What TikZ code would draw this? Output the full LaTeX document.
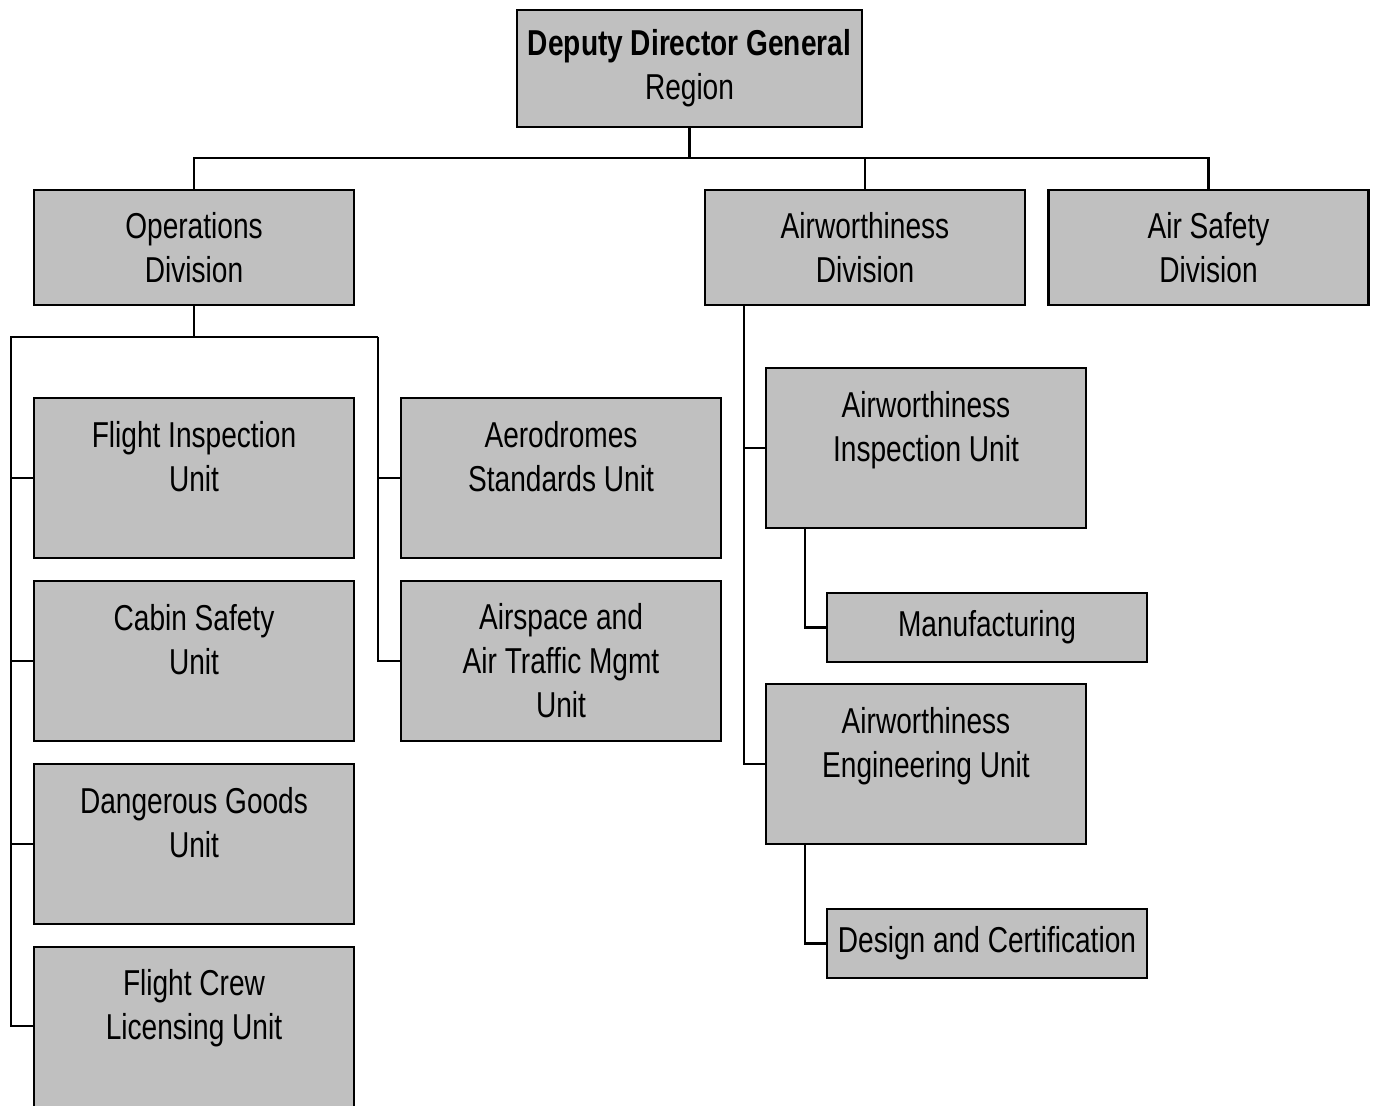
\documentclass[tikz,border=0pt]{standalone}
\usepackage{fontspec}
\setmainfont{Liberation Sans}[FakeStretch=0.78]
\usepackage{tikz}
\definecolor{boxgray}{HTML}{C0C0C0}
\tikzstyle{unit} = [rectangle, minimum width=160pt, minimum height=80pt, align=center, draw=black, line width=1.4pt, fill=boxgray, inner sep=0pt, font=\fontsize{18}{22}\selectfont]
\tikzstyle{division} = [unit, minimum height=57.5pt]
\tikzstyle{section} = [unit, minimum height=34.5pt]
\tikzstyle{line} = [line width=1.2pt]

\begin{document}
\begin{tikzpicture}[x=0.5pt, y=-0.5pt]
        \useasboundingbox (0,0) rectangle (1377,1106);
        \node (ddg) [unit, minimum width=172.5pt, minimum height=58.5pt] at (689.5,68.5) {\textbf{Deputy Director General}\\Region};
        \node (ops) [division] at (194,247.5) {Operations\\Division};
        \node (awd) [division] at (865,247.5) {Airworthiness\\Division};
        \node (asd) [division] at (1208.5,247.5) {Air Safety\\Division};
        \node (fiu) [unit] at (194,478) {Flight Inspection\\Unit\\~};
        \node (csu) [unit] at (194,661) {Cabin Safety\\Unit\\~};
        \node (dgu) [unit] at (194,844) {Dangerous Goods\\Unit\\~};
        \node (fcl) [unit, minimum height=101pt] at (194,1048) {Flight Crew\\Licensing Unit\\~\\~};
        \node (asu) [unit] at (561,478) {Aerodromes\\Standards Unit\\~};
        \node (aat) [unit] at (561,661) {Airspace and\\Air Traffic Mgmt\\Unit};
        \node (awi) [unit] at (926,448) {Airworthiness\\Inspection Unit\\~};
        \node (awe) [unit] at (926,764) {Airworthiness\\Engineering Unit\\~};
        \node (man) [section] at (987,627.5) {Manufacturing};
        \node (dac) [section] at (987,943.5) {Design and Certification};

        % top level
        \coordinate (bus) at (689.5,158);
        \draw [line] (ddg) -- (bus);
        \draw [line] (ops.north) |- (bus) -| (asd.north);
        \draw [line] (awd.north) -- (awd.north |- bus);

        % operations
        \coordinate (lrail) at (11,337);
        \coordinate (mrail) at (378,337);
        \draw [line] (ops.south) -- (ops.south |- lrail);
        \draw [line] (mrail) -- (lrail) |- (fcl.west |- 0,1026);
        \draw [line] (fiu.west) -- (fiu.west -| lrail);
        \draw [line] (csu.west) -- (csu.west -| lrail);
        \draw [line] (dgu.west) -- (dgu.west -| lrail);
        \draw [line] (mrail) |- (aat.west);
        \draw [line] (asu.west) -- (asu.west -| mrail);

        % airworthiness
        \coordinate (awrail) at (744,305);
        \draw [line] (awrail) |- (awe.west);
        \draw [line] (awi.west) -- (awi.west -| awrail);
        \coordinate (manrail) at (805,529);
        \coordinate (dacrail) at (805,845);
        \draw [line] (manrail) |- (man.west);
        \draw [line] (dacrail) |- (dac.west);
    \end{tikzpicture}
\end{document}
